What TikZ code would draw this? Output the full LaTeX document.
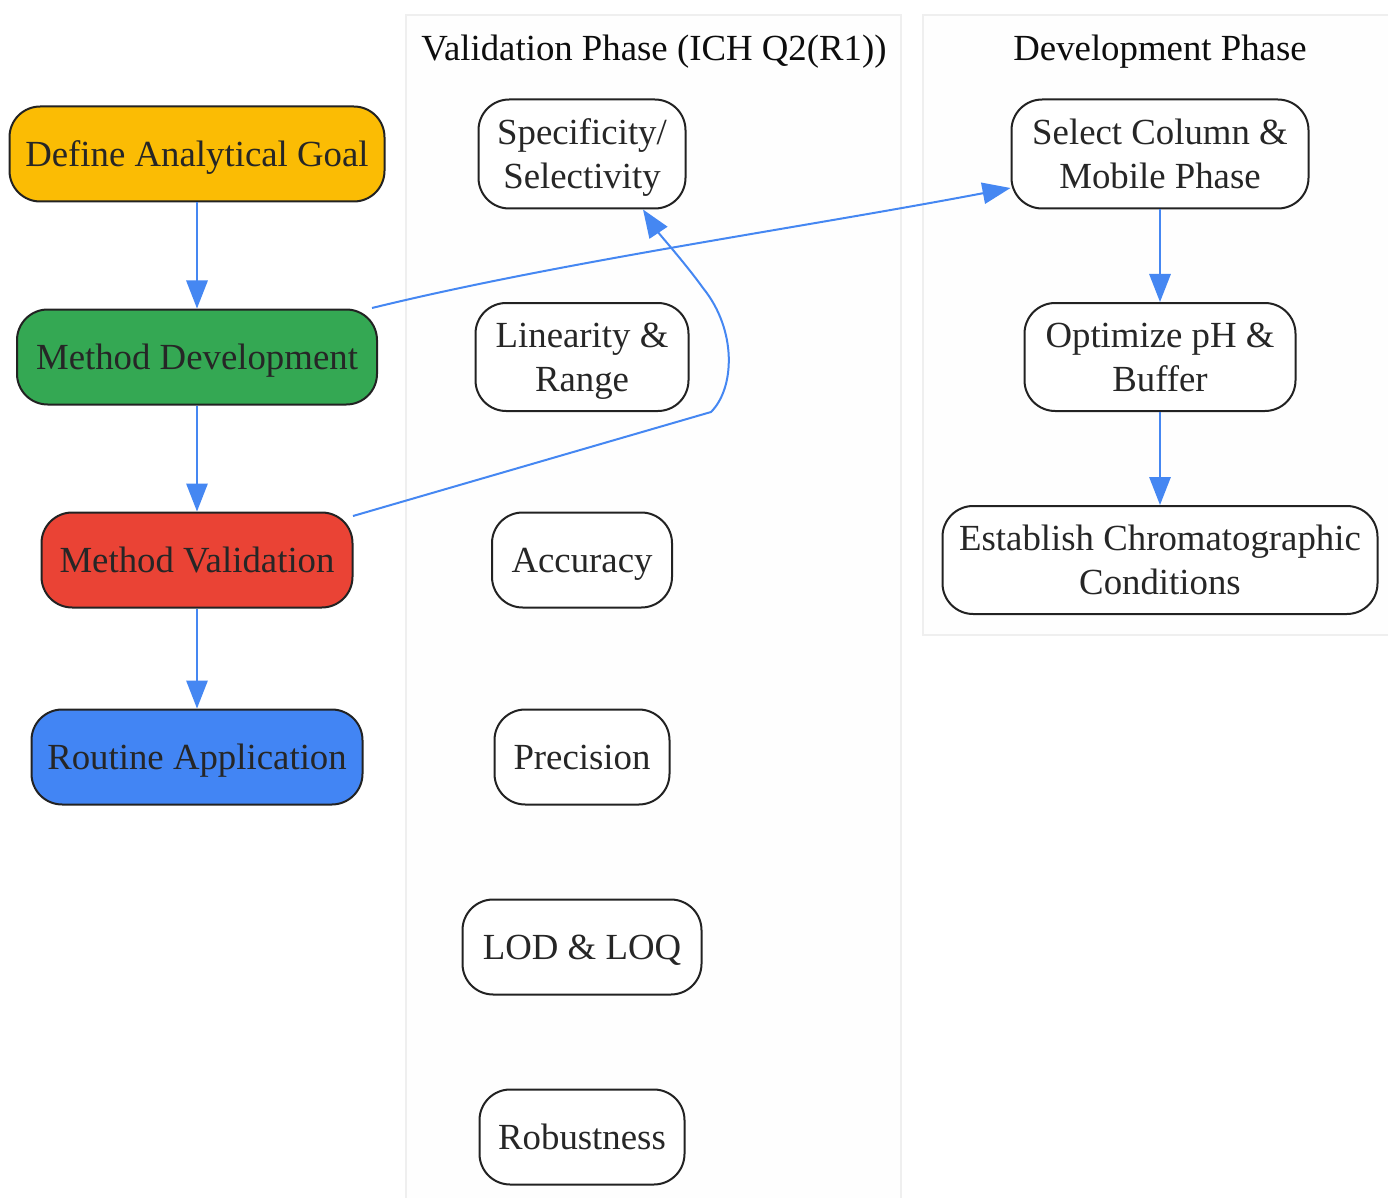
\documentclass[tikz,border=0pt]{standalone}
\usepackage{fontspec}
\setmainfont{Liberation Serif}
\usetikzlibrary{arrows.meta,calc}
\definecolor{cgold}{HTML}{FBBC04}
\definecolor{cgreen}{HTML}{34A853}
\definecolor{cred}{HTML}{EA4335}
\definecolor{cblue}{HTML}{4285F4}
\definecolor{cedge}{HTML}{4587F2}
\definecolor{cborder}{HTML}{222222}
\definecolor{ctext}{HTML}{262626}
\definecolor{cclbord}{HTML}{EFEFEF}
\definecolor{cclfill}{HTML}{FEFEFE}
\tikzset{
  box/.style={draw=cborder, line width=1.5pt, rounded corners=23pt, fill=white,
    text=ctext, align=center, inner sep=0pt, text depth=0pt,
    font=\fontsize{27.6}{33}\selectfont},
  cluster/.style={draw=cclbord, fill=cclfill, line width=2pt},
  cltitle/.style={text=black!95, inner sep=0pt, text depth=0pt, font=\fontsize{27.6}{33}\selectfont},
  edge/.style={draw=cedge, line width=1.5pt, -{Triangle[length=21pt,width=16pt]}},
}
\begin{document}
\begin{tikzpicture}[x=0.75pt,y=-0.75pt]
\useasboundingbox (0,0) rectangle (1388,1198);
\fill[white] (0,0) rectangle (1388,1198);
% clusters
\draw[cluster] (406,15) rectangle (901,1215);
\draw[cluster] (923,15) rectangle (1400,635);
\node[cltitle] (tval) at (654,48) {Validation Phase (ICH Q2(R1))};
\node[cltitle] (tdev) at (1160,48) {Development Phase};
% main flow
\node[box, fill=cgold, minimum width=281.25pt, minimum height=71.25pt] (dag) at (197,154) {Define Analytical Goal};
\node[box, fill=cgreen, minimum width=270pt, minimum height=71.25pt] (md) at (197,357) {Method Development};
\node[box, fill=cred, minimum width=233.25pt, minimum height=71.25pt] (mv) at (197,560) {Method Validation};
\node[box, fill=cblue, minimum width=248.25pt, minimum height=71.25pt] (ra) at (197,757) {Routine Application};
% validation
\node[box, minimum width=155.25pt, minimum height=81.75pt] (spec) at (582,154) {Specificity/\\Selectivity};
\node[box, minimum width=159.75pt, minimum height=81pt] (lin) at (582,357) {Linearity \&\\Range};
\node[box, minimum width=135pt, minimum height=71.25pt] (acc) at (582,560) {Accuracy};
\node[box, minimum width=131.25pt, minimum height=71.25pt] (prec) at (582,757) {Precision};
\node[box, minimum width=179.25pt, minimum height=71.25pt] (lod) at (582,947) {LOD \& LOQ};
\node[box, minimum width=153.75pt, minimum height=71.25pt] (rob) at (582,1137) {Robustness};
% development
\node[box, minimum width=222.75pt, minimum height=81.75pt] (sel) at (1160,154) {Select Column \&\\Mobile Phase};
\node[box, minimum width=203.25pt, minimum height=81pt] (opt) at (1160,357) {Optimize pH \&\\Buffer};
\node[box, minimum width=326.25pt, minimum height=81pt] (est) at (1160,560) {Establish Chromatographic\\Conditions};
% edges
\draw[edge] (dag) -- (md);
\draw[edge] (md) -- (mv);
\draw[edge] (mv) -- (ra);
\draw[edge] (sel) -- (opt);
\draw[edge] (opt) -- (est);
\draw[edge] ($(md.center)+(175,-49)$) .. controls (560,262) and (800,228) .. ($(sel.west)+(0,34)$);
\draw[edge] ($(mv.center)+(156,-44)$) -- (711,412) .. controls (735,388) and (737,330) .. (703,288) .. controls (685,263) and (660,235) .. ($(spec.south)+(61,0)$);
\end{tikzpicture}
\end{document}
